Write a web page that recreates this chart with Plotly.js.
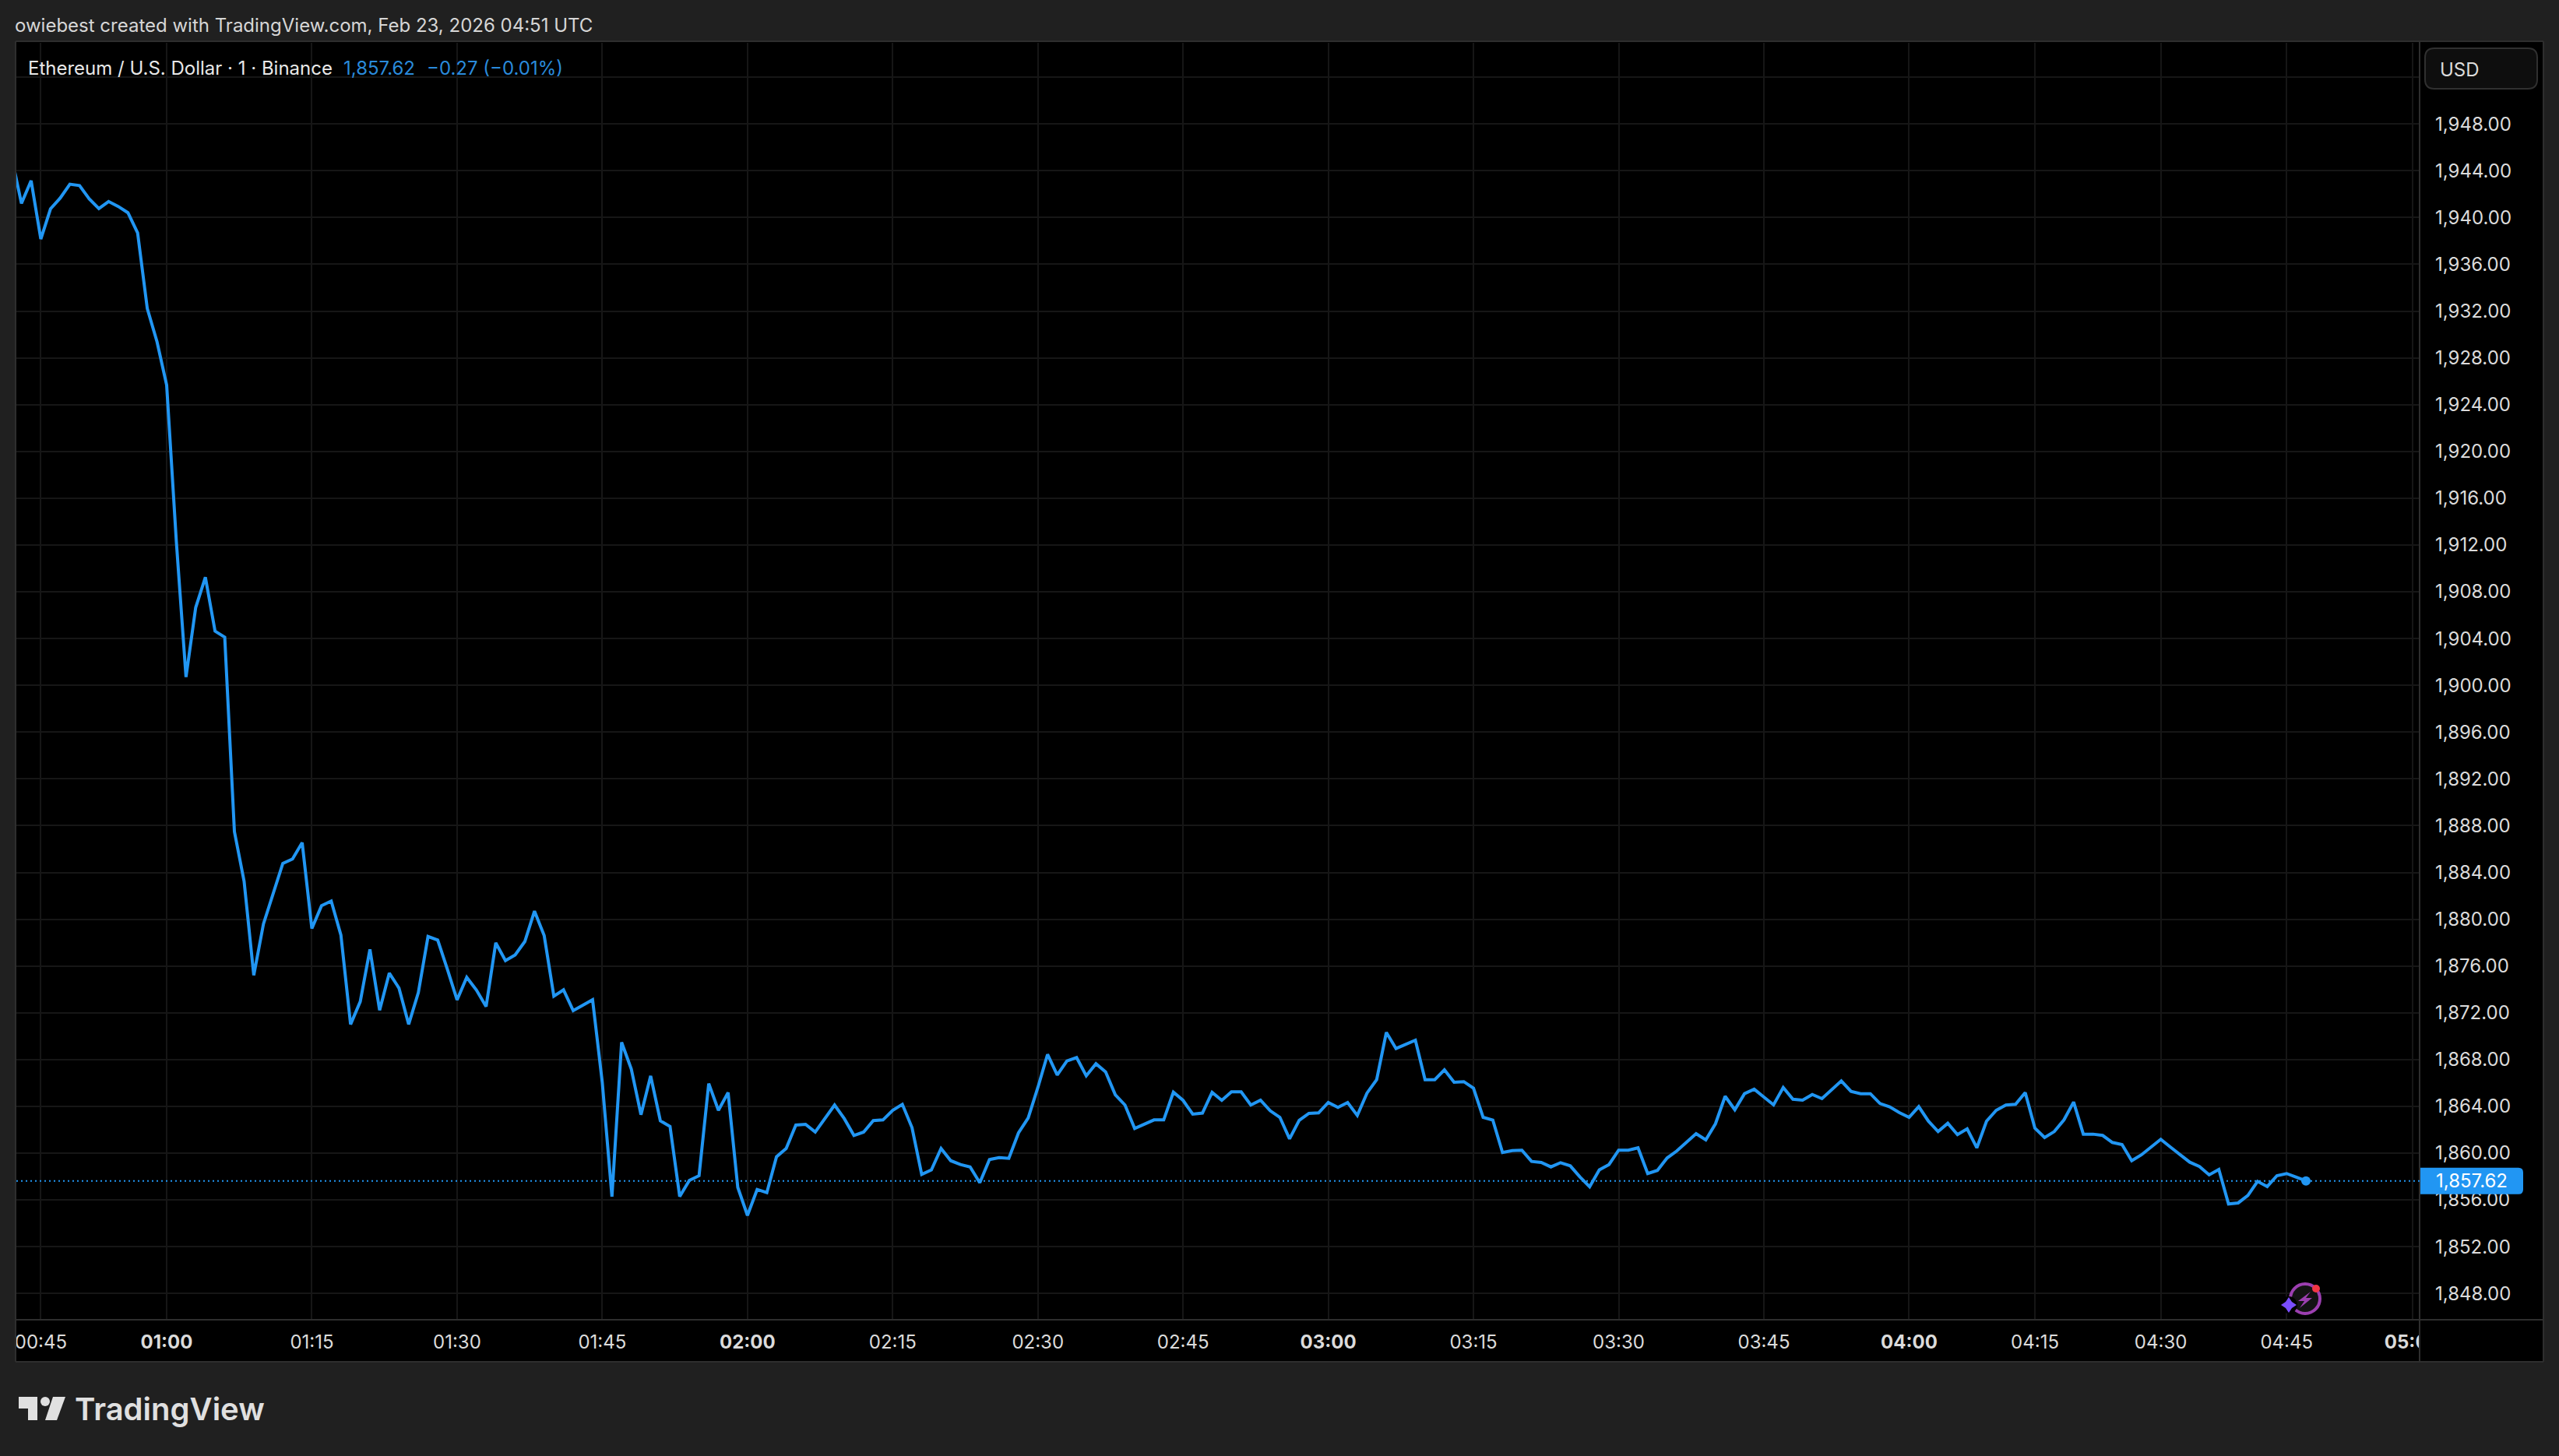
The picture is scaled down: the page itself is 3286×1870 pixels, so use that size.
<!DOCTYPE html>
<html><head><meta charset="utf-8">
<script src="https://cdn.plot.ly/plotly-3.0.1.min.js"></script>
<style>html,body{margin:0;padding:0;background:#202020;}#c{width:3286px;height:1870px;}</style>
</head><body><div id="c"></div>
<script>
const closePrices = [
1945.10,1941.21,1943.15,1938.16,1940.74,1941.66,1942.85,1942.73,1941.60,1940.77,
1941.37,1940.95,1940.41,1938.69,1932.21,1929.39,1925.67,1912.30,1900.71,1906.65,
1909.24,1904.63,1904.12,1887.49,1883.24,1875.21,1879.59,1882.22,1884.77,1885.15,
1886.55,1879.21,1881.15,1881.55,1878.65,1871.01,1872.96,1877.42,1872.22,1875.39,
1874.11,1871.01,1873.73,1878.52,1878.22,1875.72,1873.10,1875.03,1873.94,1872.53,
1877.98,1876.46,1876.94,1878.09,1880.69,1878.60,1873.42,1873.96,1872.18,1872.64,
1873.12,1866.06,1856.28,1869.47,1867.18,1863.28,1866.60,1862.76,1862.28,1856.29,
1857.67,1858.07,1865.95,1863.66,1865.17,1857.07,1854.67,1856.89,1856.62,1859.69,
1860.40,1862.40,1862.46,1861.80,1862.95,1864.11,1862.95,1861.51,1861.80,1862.78,
1862.84,1863.66,1864.17,1862.18,1858.18,1858.56,1860.40,1859.35,1859.02,1858.82,
1857.47,1859.45,1859.62,1859.55,1861.73,1863.00,1865.61,1868.44,1866.68,1867.88,
1868.17,1866.61,1867.64,1866.94,1864.99,1864.11,1862.11,1862.51,1862.84,1862.84,
1865.21,1864.51,1863.33,1863.42,1865.19,1864.51,1865.24,1865.24,1864.11,1864.53,
1863.62,1863.06,1861.22,1862.80,1863.40,1863.44,1864.33,1863.91,1864.33,1863.22,
1865.13,1866.28,1870.32,1868.94,1869.30,1869.65,1866.28,1866.28,1867.12,1866.06,
1866.11,1865.55,1863.06,1862.82,1860.05,1860.22,1860.25,1859.29,1859.20,1858.82,
1859.18,1858.91,1857.96,1857.12,1858.56,1859.02,1860.25,1860.25,1860.45,1858.25,
1858.52,1859.58,1860.18,1860.91,1861.66,1861.13,1862.51,1864.86,1863.71,1865.08,
1865.46,1864.79,1864.13,1865.61,1864.61,1864.53,1865.01,1864.66,1865.46,1866.17,
1865.28,1865.08,1865.08,1864.24,1863.95,1863.46,1863.06,1863.97,1862.73,1861.84,
1862.55,1861.58,1862.08,1860.45,1862.73,1863.66,1864.11,1864.17,1865.17,1862.13,
1861.33,1861.84,1862.84,1864.37,1861.62,1861.62,1861.51,1860.91,1860.73,1859.35,
1859.85,1860.51,1861.18,1860.51,1859.89,1859.22,1858.85,1858.14,1858.60,1855.65,
1855.74,1856.38,1857.58,1857.14,1858.07,1858.25,1857.94,1857.62];
const barIndex = closePrices.map((_, i) => i);
const lastPrice = 1857.62;
const timeTickBars = [3,16,31,46,61,76,91,106,121,136,151,166,181,196,209,222,235,248];
const timeTickLabels = ["00:45","<b>01:00</b>","01:15","01:30","01:45","<b>02:00</b>","02:15","02:30","02:45","<b>03:00</b>","03:15","03:30","03:45","<b>04:00</b>","04:15","04:30","04:45","<b>05:00</b>"];
const priceTicks = [1848,1852,1856,1860,1864,1868,1872,1876,1880,1884,1888,1892,1896,1900,1904,1908,1912,1916,1920,1924,1928,1932,1936,1940,1944,1948,1952];
const priceTickLabels = ["1,848.00","1,852.00","1,856.00","1,860.00","1,864.00","1,868.00","1,872.00","1,876.00","1,880.00","1,884.00","1,888.00","1,892.00","1,896.00","1,900.00","1,904.00","1,908.00","1,912.00","1,916.00","1,920.00","1,924.00","1,928.00","1,932.00","1,936.00","1,940.00","1,944.00","1,948.00",""];

const W=3286,H=1870,L=21,R=3107,T=55,B=1695;
const px=x=>(x-L)/(R-L), py=y=>1-(y-T)/(B-T);
const P=(pts,close=true)=>pts.map((p,i)=>(i?'L':'M')+px(p[0]).toFixed(6)+','+py(p[1]).toFixed(6)).join(' ')+(close?' Z':'');
const FONT='Inter, "Liberation Sans", sans-serif';
const BLUE='#2196f3';
const rect=(x0,y0,x1,y1,fill,layer='below',line)=>({type:'rect',xref:'paper',yref:'paper',x0:px(x0),x1:px(x1),y0:py(y0),y1:py(y1),fillcolor:fill,line:line||{width:0},layer});
const seg=(x0,y0,x1,y1,c='#2e2e2e',w=2,layer='above')=>({type:'line',xref:'paper',yref:'paper',x0:px(x0),x1:px(x1),y0:py(y0),y1:py(y1),line:{color:c,width:w},layer});
const circ=(cx,cy,r,fill,line)=>({type:'circle',xref:'paper',yref:'paper',x0:px(cx-r),x1:px(cx+r),y0:py(cy+r),y1:py(cy-r),fillcolor:fill,line:line||{width:0},layer:'above'});
const poly=(pts,fill)=>({type:'path',xref:'paper',yref:'paper',path:P(pts),fillcolor:fill,line:{width:0},layer:'above'});
const roundRect=(x0,y0,x1,y1,r)=>'M'+px(x0+r)+','+py(y0)+' L'+px(x1-r)+','+py(y0)+' Q'+px(x1)+','+py(y0)+' '+px(x1)+','+py(y0+r)+' L'+px(x1)+','+py(y1-r)+' Q'+px(x1)+','+py(y1)+' '+px(x1-r)+','+py(y1)+' L'+px(x0+r)+','+py(y1)+' Q'+px(x0)+','+py(y1)+' '+px(x0)+','+py(y1-r)+' L'+px(x0)+','+py(y0+r)+' Q'+px(x0)+','+py(y0)+' '+px(x0+r)+','+py(y0)+' Z';

const shapes=[
  rect(20,53,3266,1749,'#000000'),
  // keep the line inside the chart pane at its left edge
  rect(0,150,20,400,'#202020','above'),
  rect(20,150,21,228,'#000000','above'),
  // clip of the time axis at the price scale
  rect(3108,1696,3265,1748,'#000000','above'),
  seg(20,53,3266,53), seg(20,53,20,1749), seg(20,1749,3266,1749), seg(3266,53,3266,1749),
  seg(3107,53,3107,1749), seg(20,1695,3266,1695),
  // last price line
  {type:'line',xref:'paper',yref:'y',x0:0,x1:1,y0:lastPrice,y1:lastPrice,line:{color:BLUE,width:2,dash:'2px,4px'},layer:'above'},
  // last price tag
  {type:'path',xref:'paper',yref:'y',xsizemode:'pixel',ysizemode:'pixel',xanchor:1,yanchor:lastPrice,
   path:'M1,-17 L127,-17 Q133,-17 133,-11 L133,11 Q133,17 127,17 L1,17 Z',fillcolor:BLUE,line:{width:0},layer:'above'},
  // USD button
  {type:'path',xref:'paper',yref:'paper',path:roundRect(3114,62,3258,114,12),fillcolor:'#0e0e0e',line:{color:'#303030',width:2},layer:'above'},
  // assistant badge
  circ(2960,1668,19,'#131313',{color:'#9c3fb0',width:4}),
  poly([[2967,1659],[2951,1671],[2959,1671],[2953,1680],[2969,1667],[2961,1667]],'#9c3fb0'),
  circ(2939,1676,11,'#000000'),
  poly([[2939,1666],[2943,1672],[2949,1676],[2943,1680],[2939,1686],[2935,1680],[2929,1676],[2935,1672]],'#7a4dff'),
  circ(2974,1655,5,'#f23645',{width:0}),
  // TradingView logo
  poly([[24,1794],[48,1794],[48,1824],[36,1824],[36,1809],[24,1809]],'#e0e0e0'),
  circ(58,1800,6,'#e0e0e0'),
  poly([[68,1794],[84,1794],[73,1824],[58,1824]],'#e0e0e0')
];

const ann=(x,y,text,size,color,extra)=>Object.assign({xref:'paper',yref:'paper',x:px(x),y:py(y),text,showarrow:false,xanchor:'left',yanchor:'middle',borderpad:0,borderwidth:0,font:{family:FONT,size,color}},extra||{});
const annotations=[
  ann(19,32,'owiebest created with TradingView.com, Feb 23, 2026 04:51 UTC',24,'#d6d6d6'),
  ann(36,87,'Ethereum / U.S. Dollar · 1 · Binance',24,'#e8e8e8'),
  ann(441,87,'1,857.62',24,'#2a8bdc'),
  ann(548,87,'−0.27 (−0.01%)',24,'#2a8bdc'),
  ann(3133,89,'USD',24,'#dbdbdb'),
  {xref:'paper',yref:'y',x:px(3126),y:lastPrice,text:'1,857.62',showarrow:false,xanchor:'left',yanchor:'middle',font:{family:FONT,size:24,color:'#ffffff'}},
  ann(96,1809,'TradingView',40,'#e0e0e0',{font:{family:FONT,size:40,color:'#e0e0e0',weight:600}})
];

Plotly.newPlot('c',[
  {type:'scatter',mode:'lines',x:barIndex,y:closePrices,line:{color:BLUE,width:4,shape:'linear'},hoverinfo:'skip',cliponaxis:true},
  {type:'scatter',mode:'markers',x:[barIndex[barIndex.length-1]],y:[lastPrice],marker:{color:BLUE,size:12},hoverinfo:'skip'}
],{
  width:W,height:H,showlegend:false,
  paper_bgcolor:'#202020',plot_bgcolor:'#000000',
  margin:{l:L,r:W-R,t:T,b:H-B,pad:0,autoexpand:false},
  xaxis:{type:'linear',range:[0.473,248.74],tickmode:'array',tickvals:timeTickBars,ticktext:timeTickLabels,showgrid:true,gridcolor:'#161616',gridwidth:2,zeroline:false,showline:false,ticks:'',tickangle:0,ticklabelstandoff:12,tickfont:{family:FONT,size:24,color:'#dbdbdb'},automargin:false},
  yaxis:{type:'linear',side:'right',range:[1845.75,1954.94],tickmode:'array',tickvals:priceTicks,ticktext:priceTickLabels,showgrid:true,gridcolor:'#161616',gridwidth:2,zeroline:false,showline:false,ticks:'',ticklabelstandoff:19,tickfont:{family:FONT,size:24,color:'#dbdbdb'},automargin:false},
  shapes,annotations,
  font:{family:FONT}
},{displayModeBar:false,staticPlot:true});
</script></body></html>
